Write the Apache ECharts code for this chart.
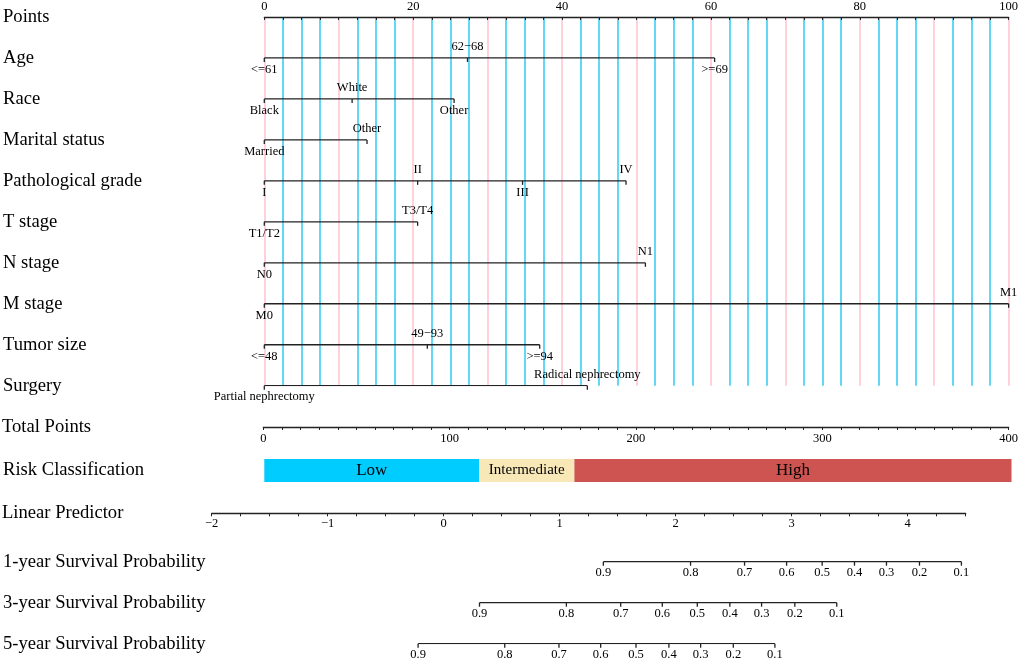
<!DOCTYPE html>
<html>
<head>
<meta charset="utf-8">
<script src="https://cdn.jsdelivr.net/npm/echarts@6/dist/echarts.min.js"></script>
<style>
  html, body { margin: 0; padding: 0; background: #fff; }
  #chart { width: 1021px; height: 659px; }
</style>
</head>
<body>
<div id="chart"></div>
<script>
// nomogram values (points scale 0-100)
const rowNames = ['Points', 'Age', 'Race', 'Marital status', 'Pathological grade', 'T stage',
  'N stage', 'M stage', 'Tumor size', 'Surgery']
const ageLabels = ['<=61', '62\u221268', '>=69']
const agePoints = [0, 27.3, 60.5]
const raceLabels = ['Black', 'White', 'Other']
const racePoints = [0, 11.8, 25.5]
const maritalLabels = ['Married', 'Other']
const maritalPoints = [0, 13.8]
const gradeLabels = ['I', 'II', 'III', 'IV']
const gradePoints = [0, 20.6, 34.7, 48.6]
const tLabels = ['T1/T2', 'T3/T4']
const tPoints = [0, 20.6]
const nLabels = ['N0', 'N1']
const nPoints = [0, 51.2]
const mLabels = ['M0', 'M1']
const mPoints = [0, 100]
const sizeLabels = ['<=48', '49\u221293', '>=94']
const sizePoints = [0, 21.9, 37.0]
const surgeryLabels = ['Partial nephrectomy', 'Radical nephrectomy']
const surgeryPoints = [0, 43.4]

const pointsTickLabels = [0, 20, 40, 60, 80, 100]
const totalTickLabels = [0, 100, 200, 300, 400]
const lpTickLabels = [-2, -1, 0, 1, 2, 3, 4]

const riskNames = ['Low', 'Intermediate', 'High']
const riskBounds = [0, 115, 166, 400]   // total points

const survNames = ['1-year Survival Probability', '3-year Survival Probability', '5-year Survival Probability']
const survProbs = ['0.9', '0.8', '0.7', '0.6', '0.5', '0.4', '0.3', '0.2', '0.1']
// linear predictor value where each probability sits
const surv1yLP = [1.372, 2.125, 2.591, 2.954, 3.261, 3.540, 3.816, 4.101, 4.463]
const surv3yLP = [0.303, 1.053, 1.522, 1.881, 2.183, 2.464, 2.738, 3.025, 3.387]
const surv5yLP = [-0.227, 0.521, 0.989, 1.349, 1.654, 1.938, 2.212, 2.494, 2.853]

// layout
const W = 1021
const X0 = 263.3, X100 = 1011.5
const LP_LEFT = 211.7, LP_RIGHT = 965.7
const SERIF = '"Liberation Serif", "Times New Roman", serif'
const INK = '#222'
const riskColors = ['#00ccff', '#f8e8b8', '#cd5450']
const riskFont = [17, 15, 17]

const variableRows = [
  [ageLabels, agePoints], [raceLabels, racePoints], [maritalLabels, maritalPoints],
  [gradeLabels, gradePoints], [tLabels, tPoints], [nLabels, nPoints], [mLabels, mPoints],
  [sizeLabels, sizePoints], [surgeryLabels, surgeryPoints],
]

const tickText = { fontFamily: SERIF, fontSize: 12.5, color: '#000' }
const nameText = { fontFamily: SERIF, fontSize: 18.6, color: '#000' }

function scaleLine (labels, values, row, xi, yi, alternate) {
  return {
    type: 'line',
    xAxisIndex: xi,
    yAxisIndex: yi,
    silent: true,
    symbol: 'rect',
    symbolSize: [1.3, 4],
    symbolOffset: [0, '50%'],
    lineStyle: { color: INK, width: 1.3 },
    itemStyle: { color: INK },
    label: { show: true, formatter: '{b}', ...tickText },
    data: values.map((v, j) => {
      const up = alternate && j % 2 === 1
      return {
        name: labels[j],
        value: [v, row],
        label: { position: up ? 'top' : 'bottom', distance: up ? 4.5 : 1 },
      }
    }),
  }
}

const series = []
variableRows.forEach(([labels, values], i) => {
  series.push(scaleLine(labels, values, i + 1, 0, 0, true))
})
riskNames.forEach((name, i) => {
  series.push({
    type: 'bar',
    name: name,
    xAxisIndex: 2,
    yAxisIndex: 2,
    stack: 'risk',
    barWidth: 23,
    silent: true,
    itemStyle: { color: riskColors[i] },
    label: { show: true, position: 'inside', formatter: name, fontFamily: SERIF, fontSize: riskFont[i], color: '#000' },
    data: [riskBounds[i + 1] - riskBounds[i]],
  })
})
;[surv1yLP, surv3yLP, surv5yLP].forEach((lp, i) => {
  const s = scaleLine(survProbs, lp, i, 4, 4, false)
  s.data.forEach(d => { d.label.distance = 0.5 })
  series.push(s)
})

const axisLineStyle = { show: true, lineStyle: { color: INK, width: 1.3 } }
const hiddenY = (gi) => ({ gridIndex: gi, type: 'value', show: false, min: 0, max: 1 })

const option = {
  animation: false,
  backgroundColor: '#fff',
  grid: [
    { left: X0, right: W - X100, top: 17, height: 368.7 },
    { left: X0, right: W - X100, top: 417, height: 10 },
    { left: X0, right: W - X100, top: 459, height: 23 },
    { left: LP_LEFT, right: W - LP_RIGHT, top: 503.3, height: 10 },
    { left: LP_LEFT, right: W - LP_RIGHT, top: 561.7, height: 82 },
  ],
  xAxis: [
    {
      gridIndex: 0, type: 'value', position: 'top', min: 0, max: 100, interval: 2.5,
      axisLine: axisLineStyle,
      axisTick: { show: true, inside: true, length: 3, lineStyle: { color: INK } },
      axisLabel: { margin: 4, ...tickText, formatter: v => pointsTickLabels.includes(v) ? String(v) : '' },
      splitLine: { show: true, lineStyle: { width: 1.6, color: ['#ffc6d2', '#3ecdf4', '#3ecdf4', '#3ecdf4'] } },
    },
    {
      gridIndex: 1, type: 'value', position: 'bottom', min: 0, max: 400, interval: 10,
      axisLine: axisLineStyle,
      axisTick: { show: true, length: 3, lineStyle: { color: INK } },
      axisLabel: { margin: 5, ...tickText, formatter: v => totalTickLabels.includes(v) ? String(v) : '' },
      splitLine: { show: false },
      name: 'Total Points', nameLocation: 'start', nameGap: X0 - 2,
      nameTextStyle: { ...nameText, align: 'left', verticalAlign: 'middle', padding: [3, 0, 0, 0] },
    },
    { gridIndex: 2, type: 'value', show: false, min: 0, max: 400 },
    {
      gridIndex: 3, type: 'value', position: 'bottom', min: -2, max: 4.5, interval: 0.25,
      axisLine: axisLineStyle,
      axisTick: { show: true, length: 3, lineStyle: { color: INK } },
      axisLabel: {
        margin: 4, ...tickText,
        formatter: v => lpTickLabels.includes(v) ? (v < 0 ? '\u2212' + (-v) : String(v)) : '',
      },
      splitLine: { show: false },
      name: 'Linear Predictor', nameLocation: 'start', nameGap: LP_LEFT - 2,
      nameTextStyle: { ...nameText, align: 'left', verticalAlign: 'middle', padding: [7, 0, 0, 0] },
    },
    { gridIndex: 4, type: 'value', show: false, min: -2, max: 4.5 },
  ],
  yAxis: [
    {
      gridIndex: 0, type: 'value', inverse: true, min: 0, max: 9, interval: 1,
      axisLine: { show: false }, axisTick: { show: false }, splitLine: { show: false },
      axisLabel: { ...nameText, align: 'left', margin: X0 - 2, formatter: v => rowNames[v] || '' },
    },
    hiddenY(1),
    {
      gridIndex: 2, type: 'category', data: ['Risk Classification'],
      axisLine: { show: false }, axisTick: { show: false }, splitLine: { show: false },
      axisLabel: { ...nameText, align: 'left', margin: X0 - 2 },
    },
    hiddenY(3),
    {
      gridIndex: 4, type: 'value', inverse: true, min: 0, max: 2, interval: 1,
      axisLine: { show: false }, axisTick: { show: false }, splitLine: { show: false },
      axisLabel: { ...nameText, align: 'left', margin: LP_LEFT - 2, formatter: v => survNames[v] || '' },
    },
  ],
  series: series,
}

const chart = echarts.init(document.getElementById('chart'))
chart.setOption(option)
</script>
</body>
</html>
